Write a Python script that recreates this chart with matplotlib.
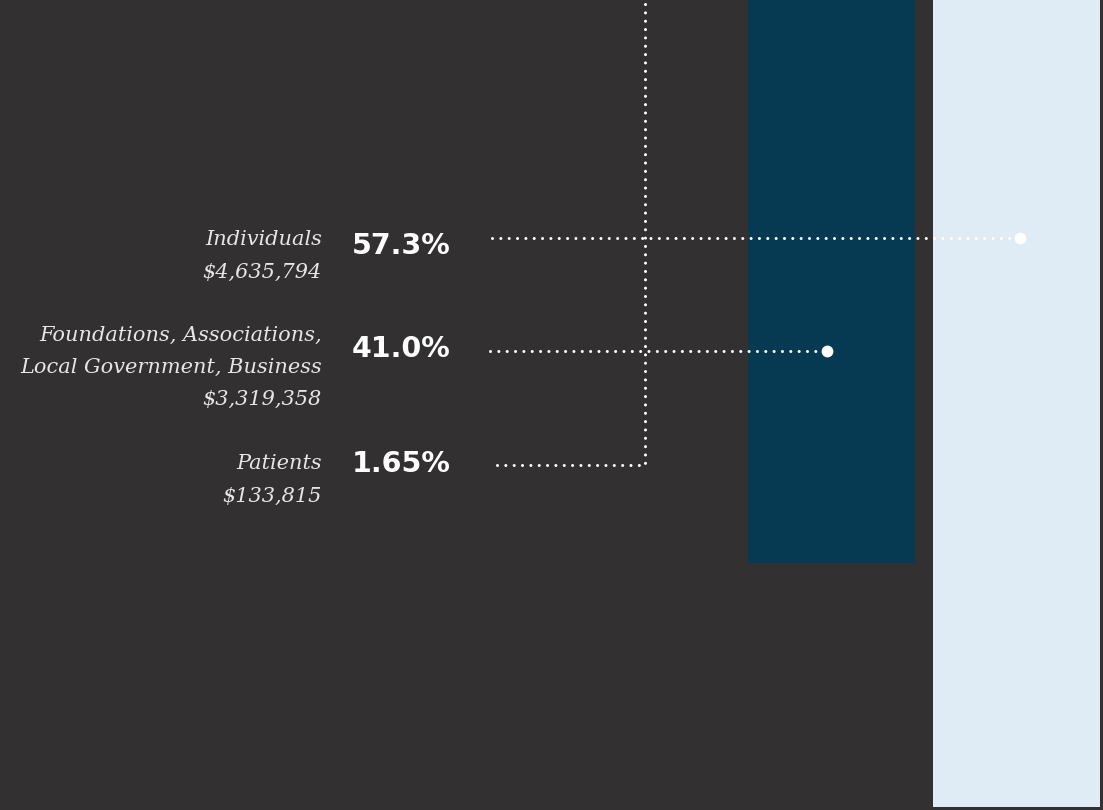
import matplotlib
matplotlib.use("Agg")
from matplotlib import pyplot as plt

# sources of revenue (labels on the left)
categories = ["Individuals", "Foundations, Associations,\nLocal Government, Business", "Patients"]
amounts = ["$4,635,794", "$3,319,358", "$133,815"]
percents = ["57.3%", "41.0%", "1.65%"]

# the two bars (cropped at the top of the picture), hanging from the top edge
bar_names = ["grants", "total"]
bar_values = [69.85, 100.0]

BG = "#323031"
DARK = "#063a52"
LIGHT = "#dfebf5"
TEXT = "#e6e6e6"

W, H = 1103, 810


def draw_graph():
    fig = plt.figure(figsize=(W / 100, H / 100), dpi=100)
    fig.patch.set_facecolor(BG)

    # bars axes: one unit = 185 px, first bar centred at x = 831.5 px
    ax = fig.add_axes([0, 0, 1, 1])
    ax.set_facecolor(BG)
    ax.bar(range(len(bar_values)), bar_values, width=0.903, bottom=0,
           color=[DARK, LIGHT], align="center")
    ax.set_xlim(-831.5 / 185, (W - 831.5) / 185)
    ax.set_ylim(100 * H / 806.7, 0)
    ax.axis("off")

    # overlay in pixel units for leaders and labels
    ov = fig.add_axes([0, 0, 1, 1], facecolor="none")
    ov.set_xlim(0, W)
    ov.set_ylim(H, 0)
    ov.axis("off")

    # dotted leaders, about 8 px between dots
    dot = dict(color="white", lw=2.2, dashes=(0.01, 2.72), dash_capstyle="round", solid_capstyle="round")
    rows = [238, 351, 464.5]
    # Individuals -> light bar
    ov.plot([492, 1020], [rows[0], rows[0]], **dot)
    ov.plot([1020], [rows[0]], "o", color="white", ms=8.5, mec="none")
    # Foundations -> dark bar
    ov.plot([490, 827], [rows[1], rows[1]], **dot)
    ov.plot([827], [rows[1]], "o", color="white", ms=8.5, mec="none")
    # Patients -> up and out of frame
    ov.plot([497, 644.5, 644.5], [rows[2], rows[2], -5], **dot)

    serif = dict(family="DejaVu Serif", style="italic", color=TEXT, fontsize=15,
                 ha="right", va="baseline")
    ov.text(322, 245, categories[0], **serif)
    ov.text(322, 278, amounts[0], **serif)
    ov.text(322, 341, categories[1].split("\n")[0], **serif)
    ov.text(322, 373, categories[1].split("\n")[1], **serif)
    ov.text(322, 405, amounts[1], **serif)
    ov.text(322, 469, categories[2], **serif)
    ov.text(322, 502, amounts[2], **serif)

    bold = dict(family="DejaVu Sans", weight="bold", color="white", fontsize=20.5, ha="left", va="baseline")
    for y, p in zip([254, 357, 472], percents):
        ov.text(352, y, p, **bold)

    fig.savefig("out.png", dpi=100, facecolor=BG)


if __name__ == "__main__":
    draw_graph()
